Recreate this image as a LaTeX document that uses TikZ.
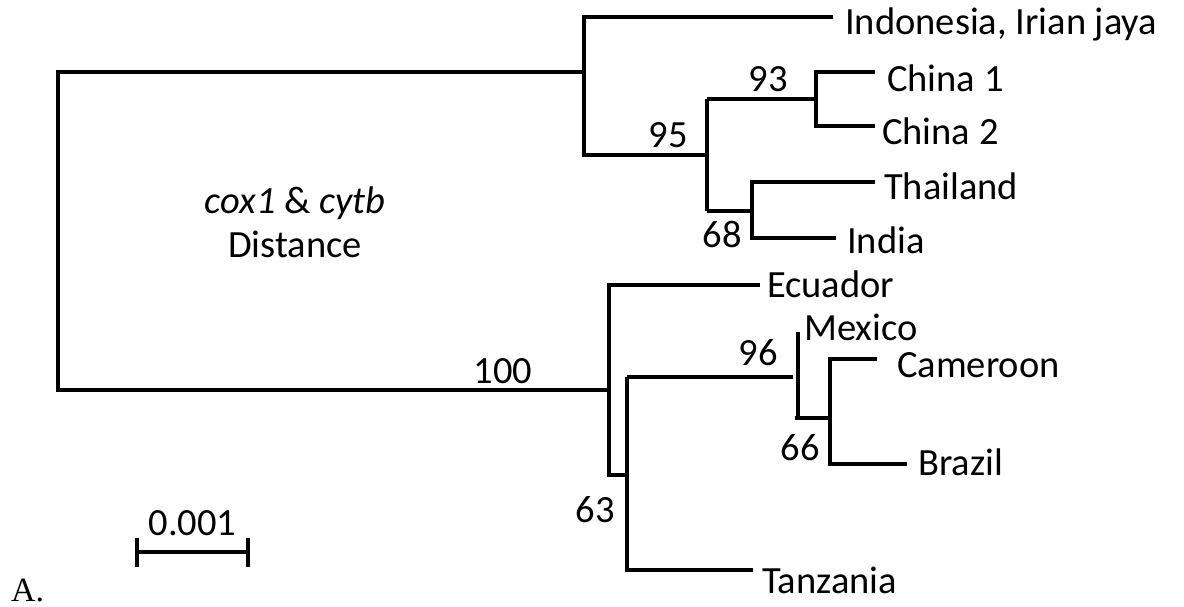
\documentclass[tikz,border=0pt]{standalone}
\usepackage{fontspec}
\setmainfont{Carlito}
\newfontfamily\lettfont{Liberation Serif}
\begin{document}
\begin{tikzpicture}[x=1pt,y=-1pt,
  br/.style={line width=3.1pt,line join=miter},
  taxon/.style={anchor=base west,inner sep=0pt,font=\fontsize{38.5}{46}\selectfont},
  boot/.style={anchor=base,inner sep=0pt,font=\fontsize{38.5}{46}\selectfont}]
\useasboundingbox (0,0) rectangle (1184,607);
% coordinates
\coordinate (rootT) at (58,72);
\coordinate (rootB) at (58,390);
\coordinate (uA) at (584,72);
\coordinate (uTop) at (584,17);
\coordinate (uBot) at (584,155);
\coordinate (tIndo) at (833,17);
\coordinate (n95) at (707,155);
\coordinate (n95T) at (707,99);
\coordinate (n95B) at (707,211);
\coordinate (n93) at (816,99);
\coordinate (n93T) at (816,72);
\coordinate (n93B) at (816,126);
\coordinate (tCh1) at (875,72);
\coordinate (tCh2) at (875,126);
\coordinate (n68) at (752,211);
\coordinate (n68T) at (752,182);
\coordinate (n68B) at (752,238);
\coordinate (tThai) at (875,182);
\coordinate (tInd) at (836,238);
\coordinate (lA) at (609,390);
\coordinate (lTop) at (609,285);
\coordinate (lBot) at (609,475);
\coordinate (tEcu) at (760,285);
\coordinate (n63) at (627,475);
\coordinate (n63T) at (627,377);
\coordinate (n63B) at (627,570);
\coordinate (tTan) at (753,570);
\coordinate (n96e) at (793,377);
\coordinate (mexT) at (798,332);
\coordinate (mexB) at (798,418);
\coordinate (mexL) at (795,418);
\coordinate (n66) at (830,418);
\coordinate (n66T) at (830,359);
\coordinate (n66B) at (830,464);
\coordinate (tCam) at (877,359);
\coordinate (tBra) at (907,464);
% branches
\draw[br] (uA) -| (rootB) -- (lA);
\draw[br] (tIndo) -| (uBot) -- (n95);
\draw[br] (n95T) -- (n95B);
\draw[br] (n95T) -- (n93);
\draw[br] (tCh1) -| (n93B) -- (tCh2);
\draw[br] (n95B) -- (n68);
\draw[br] (tThai) -| (n68B) -- (tInd);
\draw[br] (tEcu) -| (lBot) -- (n63);
\draw[br] (n63T) -- (n63B) -- (tTan);
\draw[br] (n63T) -- (n96e);
\draw[br] (mexT) -- (mexB);
\draw[br] (mexL) -- (n66);
\draw[br] (tCam) -| (n66B) -- (tBra);
% taxa
\node[taxon] (lIndo) at (845,35) {Indonesia, Irian jaya};
\node[taxon] (lCh1) at (887,92) {China 1};
\node[taxon] (lCh2) at (882,145) {China 2};
\node[taxon] (lThai) at (884,200) {Thailand};
\node[taxon] (lInd) at (847,253) {India};
\node[taxon] (lEcu) at (767,297) {Ecuador};
\node[taxon] (lMex) at (804,340) {Mexico};
\node[taxon] (lCam) at (897,377) {Cameroon};
\node[taxon] (lBra) at (918,475) {Brazil};
\node[taxon] (lTan) at (762,593) {Tanzania};
% bootstrap
\node[boot] (b93) at (768,92) {93};
\node[boot] (b95) at (668,148) {95};
\node[boot] (b68) at (722,247) {68};
\node[boot] (b100) at (503,383) {100};
\node[boot] (b96) at (758,365) {96};
\node[boot] (b66) at (800,460) {66};
\node[boot] (b63) at (595,522) {63};
% title
\node[boot] (tt1) at (295,213) {\itshape cox1 \upshape\&\ \itshape cytb};
\node[boot] (tt2) at (295,257) {Distance};
% scale bar
\coordinate (sL) at (137,552);
\coordinate (sR) at (248,552);
\draw[br] (sL) -- (sR);
\draw[br] ([yshift=-15pt]sL) -- ([yshift=14pt]sL);
\draw[br] ([yshift=-15pt]sR) -- ([yshift=14pt]sR);
\node[boot] (sbl) at (192.5,535) {0.001};
\node[anchor=base west,inner sep=0pt,font=\lettfont\fontsize{34}{40}\selectfont] (lettA) at (11,601) {A.};
\end{tikzpicture}
\end{document}
